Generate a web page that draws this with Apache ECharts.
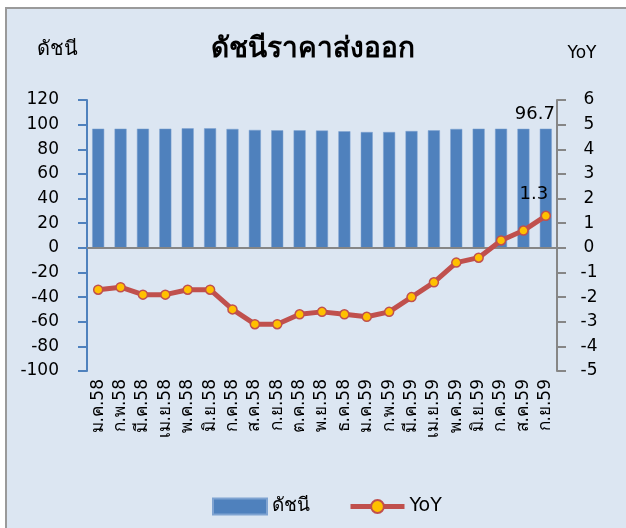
<!DOCTYPE html>
<html>
<head>
<meta charset="utf-8">
<script src="https://cdn.jsdelivr.net/npm/echarts@6/dist/echarts.min.js"></script>
<style>
  html, body { margin: 0; padding: 0; background: #ffffff; }
  #frame {
    position: absolute; left: 5px; top: 7px; width: 640px; height: 540px;
    background: #dce6f2; border: 2px solid #9a9a9a;
  }
  #chart { position: absolute; left: 0; top: 0; width: 626px; height: 528px; }
</style>
</head>
<body>
<div id="frame"></div>
<div id="chart"></div>
<script>
// Months (Thai abbreviations, Buddhist-era years 2558-2559)
const months = [
  'ม.ค.58', 'ก.พ.58', 'มี.ค.58', 'เม.ย.58', 'พ.ค.58', 'มิ.ย.58', 'ก.ค.58',
  'ส.ค.58', 'ก.ย.58', 'ต.ค.58', 'พ.ย.58', 'ธ.ค.58', 'ม.ค.59', 'ก.พ.59',
  'มี.ค.59', 'เม.ย.59', 'พ.ค.59', 'มิ.ย.59', 'ก.ค.59', 'ส.ค.59', 'ก.ย.59'
];
// Export price index (left axis)
const indexValues = [
  96.7, 96.7, 96.7, 96.7, 97.0, 97.0, 96.5, 95.7, 95.4, 95.4, 95.2,
  94.6, 94.0, 94.0, 94.8, 95.4, 96.5, 96.7, 96.7, 96.6, 96.7
];
// Year-on-year change, % (right axis)
const yoyValues = [
  -1.7, -1.6, -1.9, -1.9, -1.7, -1.7, -2.5, -3.1, -3.1, -2.7, -2.6,
  -2.7, -2.8, -2.6, -2.0, -1.4, -0.6, -0.4, 0.3, 0.7, 1.3
];
const leftTicks = { min: -100, max: 120, interval: 20 };
const rightTicks = { min: -5, max: 6, interval: 1 };

const numFont = 'DejaVu Sans, Tahoma, sans-serif';
const last = months.length - 1;

// Only the latest point carries a value label
function withLastLabel(arr) {
  return arr.map((v, i) => i === last
    ? { value: v, label: { show: true } }
    : v);
}

const chart = echarts.init(document.getElementById('chart'), null, { renderer: 'canvas' });
chart.setOption({
  backgroundColor: 'transparent',
  animation: false,
  textStyle: { fontFamily: numFont, color: '#000' },
  title: {
    text: 'ดัชนีราคาส่งออก',
    left: 'center',
    top: 31,
    textStyle: { fontSize: 28, fontWeight: 'bold', color: '#000', fontFamily: numFont }
  },
  legend: {
    left: 212,
    top: 497,
    padding: 0,
    itemGap: 38,
    itemWidth: 54,
    itemHeight: 16,
    textStyle: { fontSize: 19, color: '#000', fontFamily: numFont },
    data: [
      { name: 'ดัชนี', icon: 'rect' },
      { name: 'YoY', lineStyle: { width: 5, color: '#c0504d' } }
    ]
  },
  grid: { left: 87, right: 69, top: 100, height: 271 },
  xAxis: {
    type: 'category',
    data: months,
    axisLine: { show: false },
    axisTick: { show: false },
    axisLabel: { rotate: 90, fontSize: 17, color: '#000', margin: 8, interval: 0 }
  },
  yAxis: [
    {
      type: 'value',
      name: 'ดัชนี',
      nameLocation: 'end',
      nameGap: 0,
      nameTextStyle: { fontSize: 20, color: '#000', align: 'center', padding: [0, 0, 40, -60] },
      min: leftTicks.min, max: leftTicks.max, interval: leftTicks.interval,
      splitLine: { show: false },
      axisLine: { show: true, lineStyle: { color: '#4f81bd', width: 2 } },
      axisTick: { show: true, length: 9, lineStyle: { color: '#4f81bd', width: 2 } },
      axisLabel: { fontSize: 17, color: '#000', margin: 28 }
    },
    {
      type: 'value',
      name: 'YoY',
      nameLocation: 'end',
      nameGap: 0,
      nameTextStyle: { fontSize: 17, color: '#000', align: 'center', padding: [0, 0, 38, 50] },
      min: rightTicks.min, max: rightTicks.max, interval: rightTicks.interval,
      position: 'right',
      splitLine: { show: false },
      axisLine: { show: true, lineStyle: { color: '#868686', width: 2 } },
      axisTick: { show: true, length: 9, lineStyle: { color: '#868686', width: 2 } },
      axisLabel: { fontSize: 17, color: '#000', margin: 32, align: 'center' }
    }
  ],
  series: [
    {
      name: 'ดัชนี',
      type: 'bar',
      yAxisIndex: 0,
      barWidth: 12,
      itemStyle: { color: '#4f81bd', borderColor: '#7fa3d1', borderWidth: 0.5 },
      label: { show: false, position: 'top', offset: [-11, 0], fontSize: 18, color: '#000', distance: 5 },
      data: withLastLabel(indexValues),
      markLine: {
        silent: true,
        symbol: 'none',
        label: { show: false },
        lineStyle: { color: '#868686', width: 2, type: 'solid' },
        data: [{ yAxis: 0 }]
      }
    },
    {
      name: 'YoY',
      type: 'line',
      yAxisIndex: 1,
      symbol: 'circle',
      symbolSize: 9,
      lineStyle: { color: '#c0504d', width: 5 },
      itemStyle: { color: '#ffc000', borderColor: '#c0504d', borderWidth: 1.5 },
      label: { show: false, position: 'top', offset: [-12, -2], fontSize: 18, color: '#000' },
      z: 5,
      data: withLastLabel(yoyValues)
    }
  ]
});
</script>
</body>
</html>
